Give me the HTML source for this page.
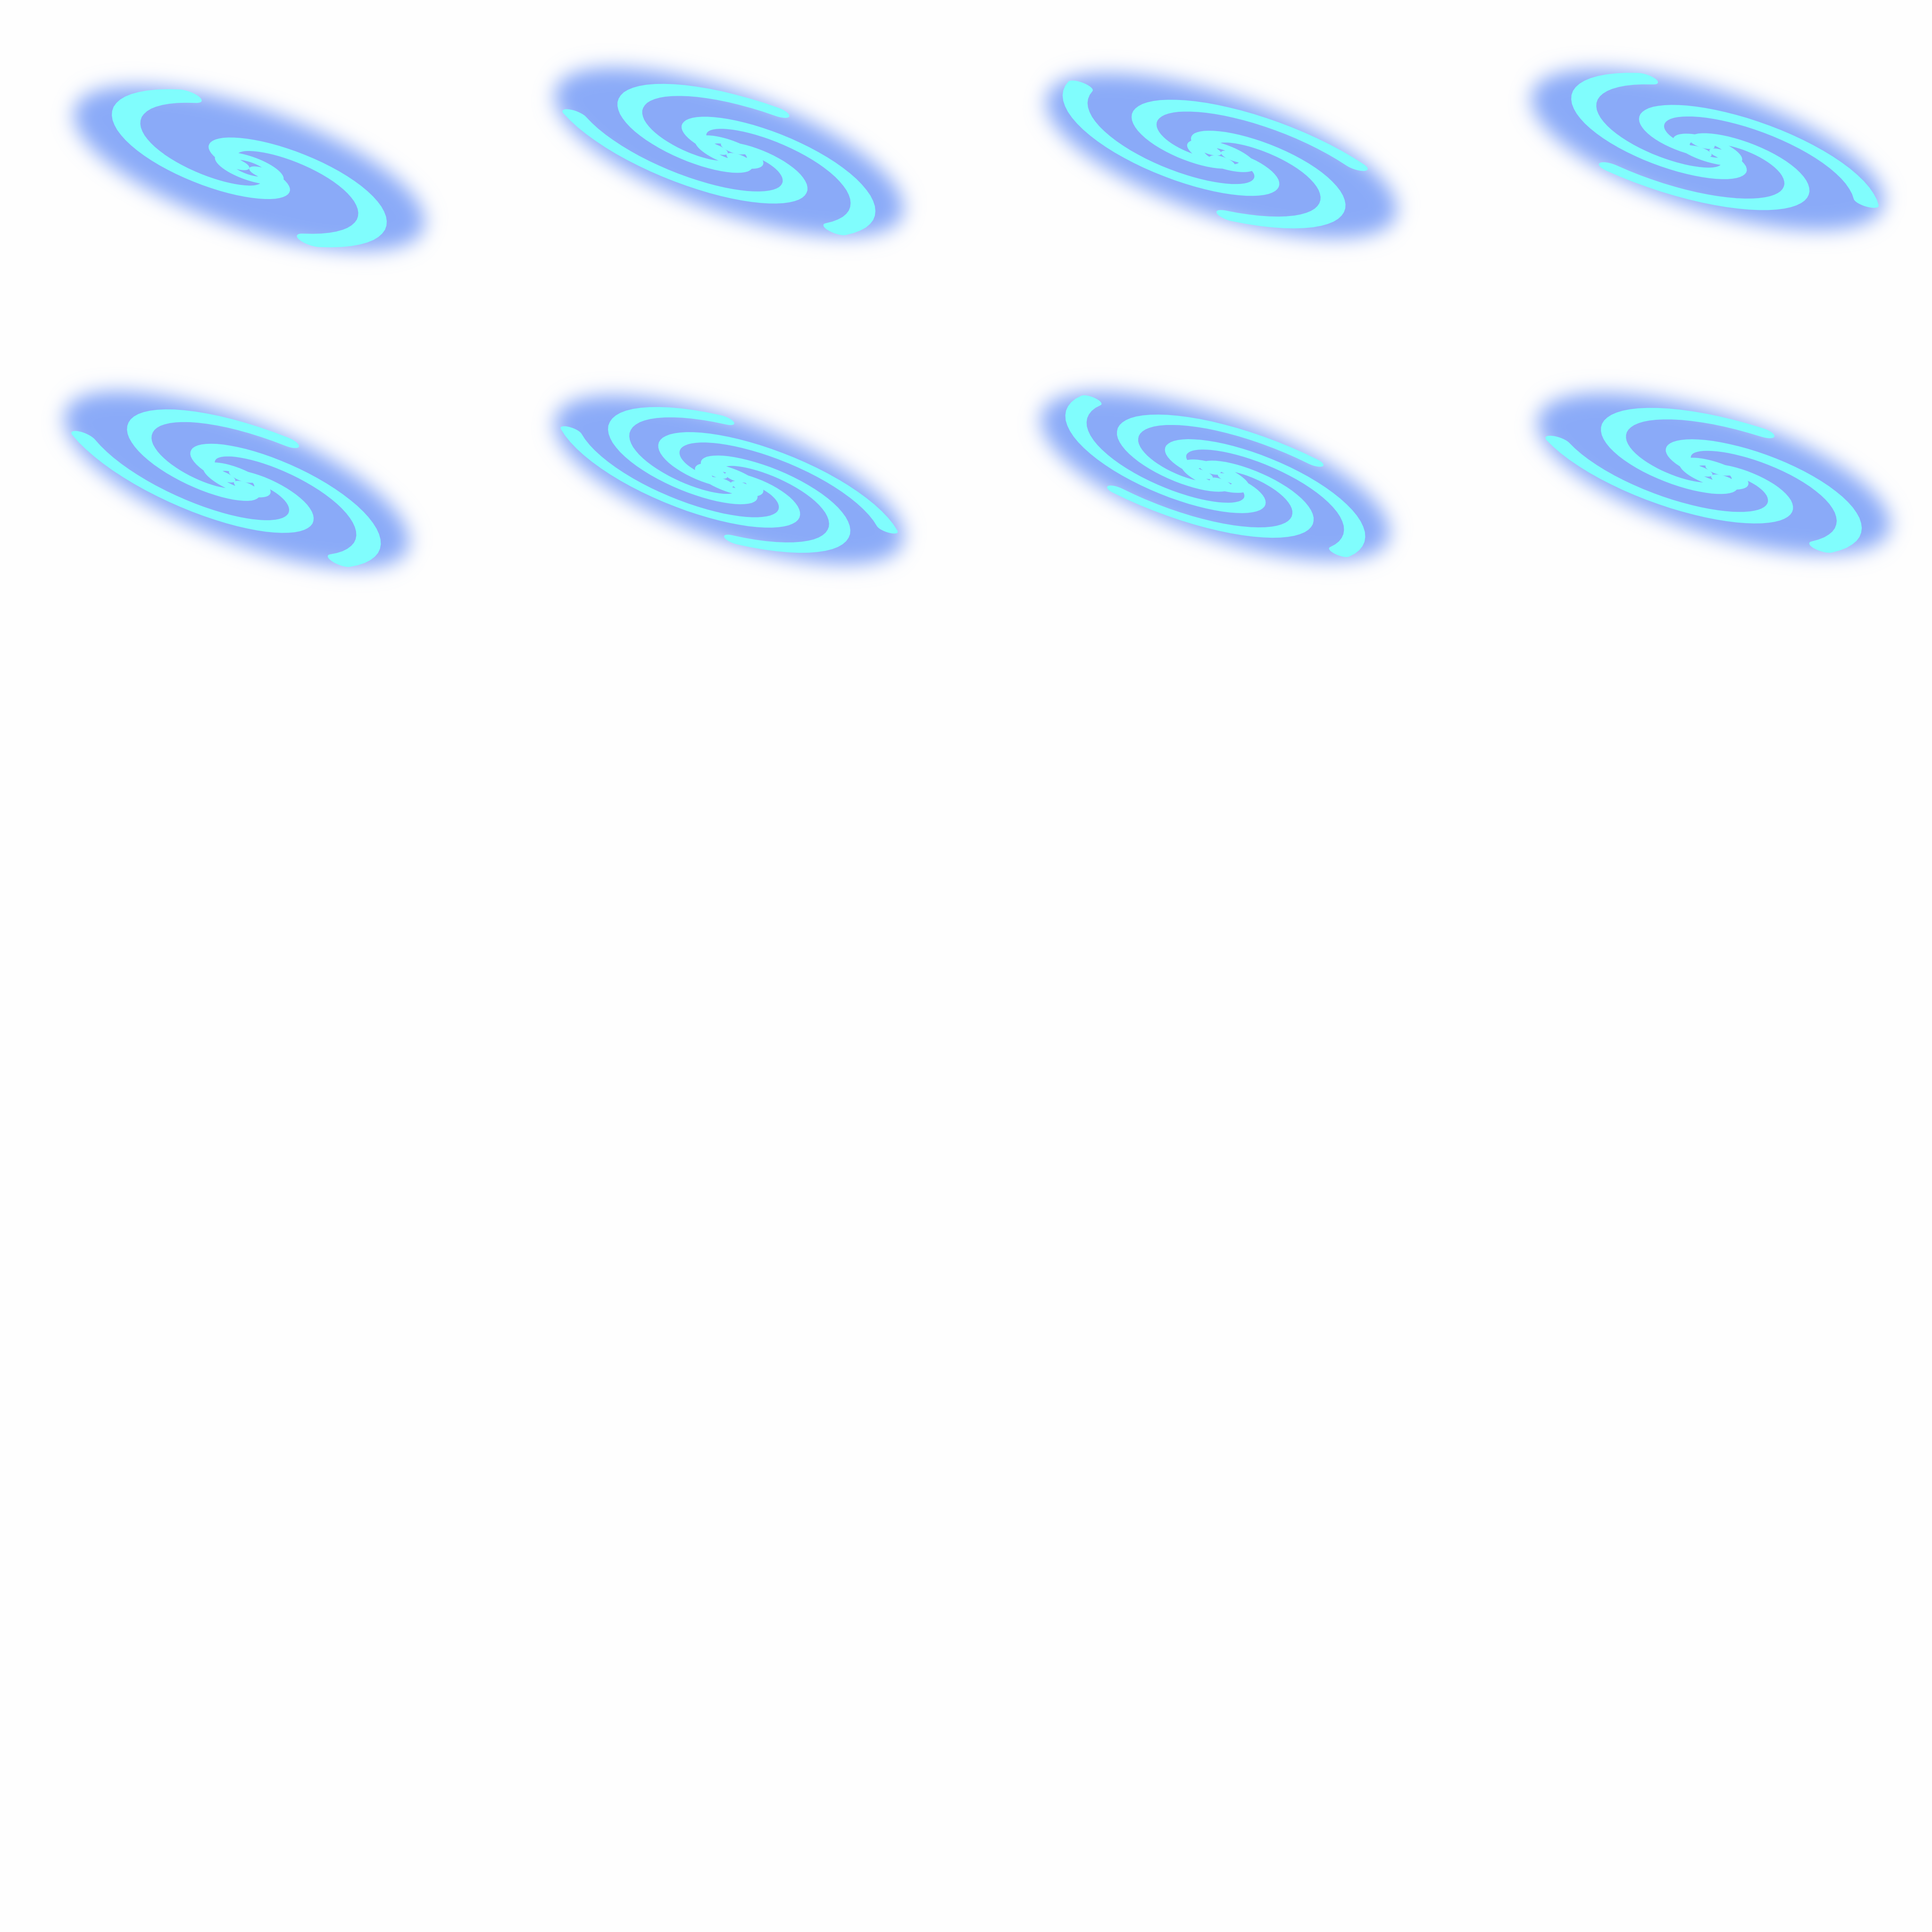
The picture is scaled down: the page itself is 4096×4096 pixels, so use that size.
<!DOCTYPE html>
<html><head><meta charset="utf-8"><style>
html,body{margin:0;padding:0;background:#fefefe;}
svg{display:block}
</style></head><body>
<svg id="sheet" width="4096" height="4096" viewBox="0 0 1550 1550" xmlns="http://www.w3.org/2000/svg">
<defs>
<filter id="blur" x="-30%" y="-60%" width="160%" height="220%"><feGaussianBlur stdDeviation="8"/></filter>
</defs>
</svg>
<script>
const cxs=[200,585,980,1370,190,585,975,1375];
const cys=[135,122,125,120,385,385,382,380];
const rots=[19,20,19,18,22,20,20,18];
const arms=[2,3,3,3,3,4,4,3];
const svg=document.getElementById('sheet');
const NS='http://www.w3.org/2000/svg';
function mk(t,a){const e=document.createElementNS(NS,t);for(const k in a)e.setAttribute(k,a[k]);return e;}
for(let i=0;i<cxs.length;i++){
  const g=mk('g',{transform:`translate(${cxs[i]},${cys[i]}) rotate(${rots[i]})`});
  
  
  const halo=mk('ellipse',{cx:0,cy:0,rx:148,ry:48,fill:'#8aaaf8',filter:'url(#blur)'});
  
  
  g.appendChild(halo);
  const inner=mk('g',{transform:'scale(1,0.33)'});
  const n=arms[i];
  for(let a=0;a<n;a++){
    let d='';const off=a*2*Math.PI/n+i*0.7;
    for(let t=0;t<=1.0001;t+=0.02){
      const r=12+t*122, th=off+t*4.2;
      const x=r*Math.cos(th), y=r*Math.sin(th);
      d+=(t===0?'M':'L')+x.toFixed(1)+','+y.toFixed(1);
    }
    const p=mk('path',{d:d,fill:'none',stroke:'#80fdfd','stroke-width':30-n*3,'stroke-linecap':'round'});
    
    
    inner.appendChild(p);
  }
  const core=mk('ellipse',{cx:0,cy:0,rx:22,ry:22,fill:'none',stroke:'#80fdfd','stroke-width':14});
  
  
  inner.appendChild(core);
  g.appendChild(inner);
  svg.appendChild(g);
}
</script>
</body></html>
